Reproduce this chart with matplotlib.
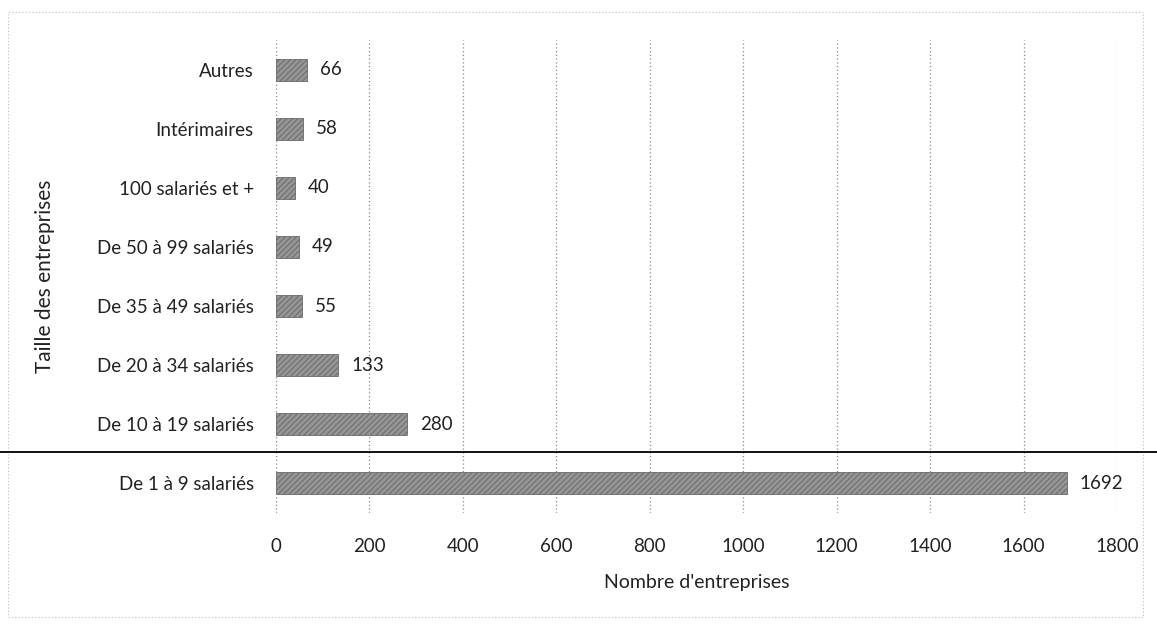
import matplotlib.pyplot as plt
from matplotlib.patches import Rectangle
from matplotlib.lines import Line2D

plt.rcParams['font.family'] = ['Lato', 'DejaVu Sans']
plt.rcParams['hatch.color'] = '#4a4a4a'
plt.rcParams['hatch.linewidth'] = 0.7

categories = ['De 1 à 9 salariés', 'De 10 à 19 salariés', 'De 20 à 34 salariés',
              'De 35 à 49 salariés', 'De 50 à 99 salariés', '100 salariés et +',
              'Intérimaires', 'Autres']
values = [1692, 280, 133, 55, 49, 40, 58, 66]
xticks = [0, 200, 400, 600, 800, 1000, 1200, 1400, 1600, 1800]

fig = plt.figure(figsize=(11.57, 6.27), dpi=100)
ax = fig.add_axes([276 / 1157, 1 - 513 / 627, (1117 - 276) / 1157, 473 / 627])

pos = range(len(categories))
ax.barh(pos, values, height=0.37, color='#959595', edgecolor='#6a6a6a',
        linewidth=0.6, hatch='//////', zorder=3)
for p, v in zip(pos, values):
    ax.text(v + 28, p, str(v), va='center', ha='left', fontsize=13.5, color='#222222')

ax.set_xlim(0, 1800)
ax.set_ylim(-0.5, len(categories) - 0.5)
ax.set_xticks(xticks)
ax.set_xticklabels([str(t) for t in xticks])
ax.set_yticks(list(pos))
ax.set_yticklabels(categories)
ax.tick_params(length=0, labelsize=13.5, colors='#222222')
ax.tick_params(axis='x', pad=18)
ax.tick_params(axis='y', pad=16)
ax.grid(axis='x', color='#888888', linestyle=(0, (1, 2)), linewidth=0.9, zorder=0)
for s in ax.spines.values():
    s.set_visible(False)

ax.set_xlabel("Nombre d'entreprises", fontsize=14, color='#222222', labelpad=14)
ax.set_ylabel('Taille des entreprises', fontsize=15, color='#222222', labelpad=30)

# scanned page fold line and dotted chart border
fig.add_artist(Line2D([0, 1], [1 - 452 / 627, 1 - 452 / 627], color='#111111', lw=1.4))
fig.add_artist(Rectangle((8 / 1157, 10 / 627), 1135 / 1157, 605 / 627, fill=False,
                         edgecolor='#bbbbbb', linestyle=(0, (1, 2)), lw=0.8))

fig.savefig('out.png', dpi=100)
